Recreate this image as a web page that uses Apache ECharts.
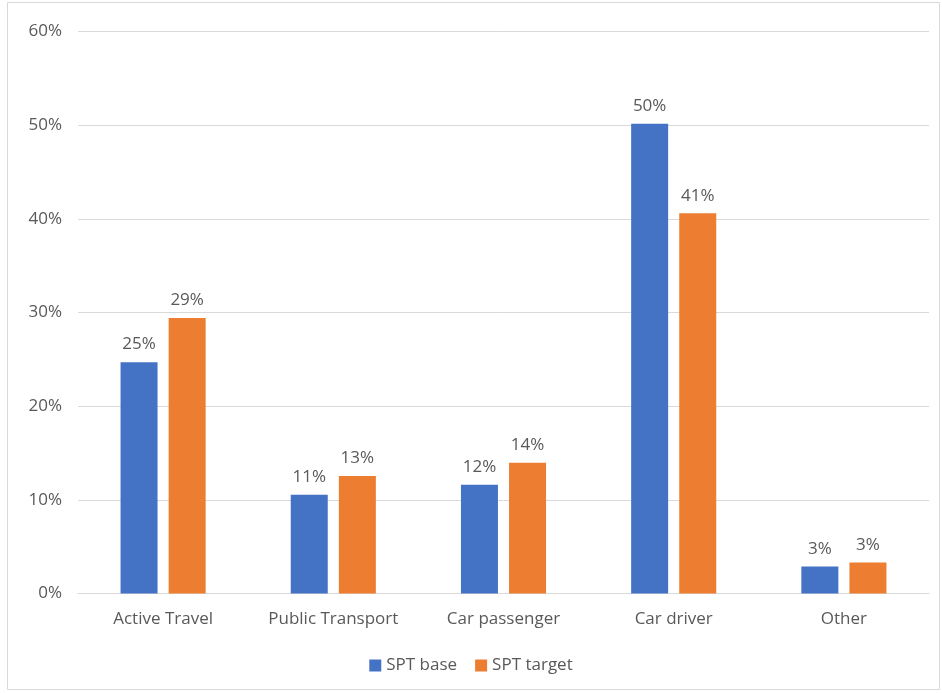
<!DOCTYPE html>
<html>
<head>
<meta charset="utf-8">
<script src="https://cdn.jsdelivr.net/npm/echarts@6/dist/echarts.min.js"></script>
<style>
html,body{margin:0;padding:0;background:#fff;}
#chart{width:942px;height:693px;}
</style>
</head>
<body>
<div id="chart"></div>
<script>
const categories = ["Active Travel", "Public Transport", "Car passenger", "Car driver", "Other"];
const sptBase = [24.7, 10.55, 11.6, 50.15, 2.87];
const sptTarget = [29.4, 12.55, 13.95, 40.6, 3.3];
const yTicks = [0, 10, 20, 30, 40, 50, 60];

const FONT = "'Open Sans', 'Liberation Sans', sans-serif";
const FS = 17;
const chart = echarts.init(document.getElementById('chart'), null, {renderer: 'canvas'});
const lbl = {
  show: true, position: 'top', distance: 9,
  color: '#595959', fontSize: FS, fontFamily: FONT,
  formatter: p => Math.round(p.value) + '%'
};
chart.setOption({
  backgroundColor: '#fff',
  animation: false,
  graphic: [{
    type: 'rect', shape: {x: 7.5, y: 2.5, width: 932, height: 687},
    style: {fill: 'none', stroke: '#d9d9d9', lineWidth: 1}, silent: true
  }],
  grid: {left: 78, right: 13, top: 31.5, bottom: 99.5, containLabel: false},
  legend: {
    bottom: 14, left: 'center', itemWidth: 12, itemHeight: 12, itemGap: 18,
    icon: 'rect',
    textStyle: {color: '#595959', fontSize: FS, fontFamily: FONT},
    data: ['SPT base', 'SPT target']
  },
  xAxis: {
    type: 'category', data: categories,
    axisLine: {lineStyle: {color: '#d9d9d9', width: 1}},
    axisTick: {show: false},
    axisLabel: {color: '#595959', fontSize: FS, fontFamily: FONT, margin: 17}
  },
  yAxis: {
    type: 'value', min: yTicks[0], max: yTicks[yTicks.length - 1], interval: 10,
    axisLine: {show: false}, axisTick: {show: false},
    splitLine: {lineStyle: {color: '#d9d9d9', width: 1}},
    axisLabel: {color: '#595959', fontSize: FS, fontFamily: FONT, margin: 16,
      formatter: v => v + '%'}
  },
  series: [
    {name: 'SPT base', type: 'bar', data: sptBase, barWidth: 37, barGap: '30%',
      itemStyle: {color: '#4472c4'}, label: lbl},
    {name: 'SPT target', type: 'bar', data: sptTarget, barWidth: 37,
      itemStyle: {color: '#ed7d31'}, label: lbl}
  ]
});
</script>
</body>
</html>
